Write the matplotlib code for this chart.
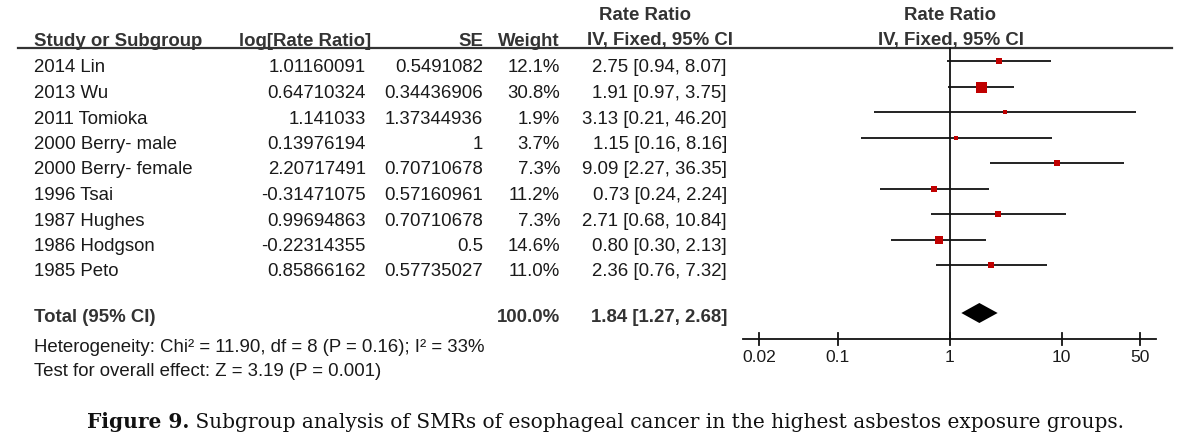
import matplotlib
matplotlib.use("Agg")
import matplotlib.pyplot as plt
import numpy as np

# dados
studies = ["2014 Lin", "2013 Wu", "2011 Tomioka", "2000 Berry- male", "2000 Berry- female",
           "1996 Tsai", "1987 Hughes", "1986 Hodgson", "1985 Peto"]
log_rr = ["1.01160091", "0.64710324", "1.141033", "0.13976194", "2.20717491",
          "-0.31471075", "0.99694863", "-0.22314355", "0.85866162"]
se = ["0.5491082", "0.34436906", "1.37344936", "1", "0.70710678",
      "0.57160961", "0.70710678", "0.5", "0.57735027"]
weight = [12.1, 30.8, 1.9, 3.7, 7.3, 11.2, 7.3, 14.6, 11.0]
rr = [2.75, 1.91, 3.13, 1.15, 9.09, 0.73, 2.71, 0.80, 2.36]
ci_lo = [0.94, 0.97, 0.21, 0.16, 2.27, 0.24, 0.68, 0.30, 0.76]
ci_hi = [8.07, 3.75, 46.20, 8.16, 36.35, 2.24, 10.84, 2.13, 7.32]

total_weight = 100.0
total_rr = 1.84
total_lo = 1.27
total_hi = 2.68

xticks = [0.02, 0.1, 1, 10, 50]
xtick_labels = ["0.02", "0.1", "1", "10", "50"]

heterogeneity = "Heterogeneity: Chi\u00b2 = 11.90, df = 8 (P = 0.16); I\u00b2 = 33%"
overall = "Test for overall effect: Z = 3.19 (P = 0.001)"
caption_bold = "Figure 9."
caption = " Subgroup analysis of SMRs of esophageal cancer in the highest asbestos exposure groups."

plt.rcParams['font.family'] = ['Liberation Sans', 'DejaVu Sans']
FS = 13.4
TXT = "#1a1a1a"
HDR = "#333333"
RED = "#c00000"

W, H = 1200, 447
fig = plt.figure(figsize=(W / 100, H / 100), dpi=100)

# eixo de texto em pixels
ax = fig.add_axes([0, 0, 1, 1])
ax.set_xlim(0, W)
ax.set_ylim(H, 0)
ax.axis("off")

# eixo do forest plot (log), mesma escala vertical
one_px, decade_px = 949.7, 112.0
axf = fig.add_axes([0, 0, 1, 1])
axf.set_xscale("log")
axf.set_xlim(10 ** (-one_px / decade_px), 10 ** ((W - one_px) / decade_px))
axf.set_ylim(H, 0)
axf.axis("off")
axf.patch.set_alpha(0)

# cabeçalhos
ax.text(645, 15, "Rate Ratio", ha="center", va="center", fontsize=FS, fontweight="bold", color=HDR)
ax.text(950, 15, "Rate Ratio", ha="center", va="center", fontsize=FS, fontweight="bold", color=HDR)
hy = 41
ax.text(34, hy, "Study or Subgroup", ha="left", va="center", fontsize=FS, fontweight="bold", color=HDR)
ax.text(371, hy, "log[Rate Ratio]", ha="right", va="center", fontsize=FS, fontweight="bold", color=HDR)
ax.text(483, hy, "SE", ha="right", va="center", fontsize=FS, fontweight="bold", color=HDR)
ax.text(560, hy, "Weight", ha="right", va="center", fontsize=FS, fontweight="bold", color=HDR)
ax.text(660, hy, "IV, Fixed, 95% CI", ha="center", va="center", fontsize=FS, fontweight="bold", color=HDR)
ax.text(951, hy, "IV, Fixed, 95% CI", ha="center", va="center", fontsize=FS, fontweight="bold", color=HDR)
ax.plot([18, 1172], [48, 48], color="#333333", lw=1.6)

# linhas dos estudos
row0, step = 68.0, 25.5
rows = row0 + step * np.arange(len(studies))
for i, y in enumerate(rows):
    ax.text(34, y, studies[i], ha="left", va="center", fontsize=FS, color=TXT)
    ax.text(366, y, log_rr[i], ha="right", va="center", fontsize=FS, color=TXT)
    ax.text(483, y, se[i], ha="right", va="center", fontsize=FS, color=TXT)
    ax.text(560, y, f"{weight[i]:.1f}%", ha="right", va="center", fontsize=FS, color=TXT)
    ax.text(727, y, f"{rr[i]:.2f} [{ci_lo[i]:.2f}, {ci_hi[i]:.2f}]", ha="right", va="center",
            fontsize=FS, color=TXT)

    yp = y - 7
    axf.plot([ci_lo[i], ci_hi[i]], [yp, yp], color="#111111", lw=1.3, solid_capstyle="butt")
    side_px = max(3.6, 11 * np.sqrt(weight[i] / max(weight)))
    axf.plot(rr[i], yp, marker="s", ms=side_px * 0.72, color=RED, mew=0)

# total
ty = 318
ax.text(34, ty, "Total (95% CI)", ha="left", va="center", fontsize=FS, fontweight="bold", color=HDR)
ax.text(560, ty, f"{total_weight:.1f}%", ha="right", va="center", fontsize=FS, fontweight="bold", color=HDR)
ax.text(727, ty, f"{total_rr:.2f} [{total_lo:.2f}, {total_hi:.2f}]", ha="right", va="center",
        fontsize=FS, fontweight="bold", color=HDR)
dy = ty - 5
axf.fill([total_lo, total_rr, total_hi, total_rr], [dy, dy - 10, dy, dy + 10], color="black", lw=0)

ax.text(34, 348, heterogeneity, ha="left", va="center", fontsize=FS, color=TXT)
ax.text(34, 372, overall, ha="left", va="center", fontsize=FS, color=TXT)

# eixo x e linha de nulidade
axis_y = 339
lo_lim, hi_lim = 10 ** (-1.845), 10 ** (1.842)
axf.plot([lo_lim, hi_lim], [axis_y, axis_y], color="#111111", lw=1.3)
axf.plot([1, 1], [48, axis_y], color="#111111", lw=1.3)
for t, lab in zip(xticks, xtick_labels):
    axf.plot([t, t], [axis_y - 6, axis_y + 6], color="#111111", lw=1.3)
    axf.text(t, 358, lab, ha="center", va="center", fontsize=FS - 0.8, color=TXT)

# legenda da figura: ajusta o tamanho para ocupar a mesma largura do original
serif = ["DejaVu Serif", "Liberation Serif"]
cap_x0, cap_x1 = 87, 1125
cap_fs = 14.0
t1 = ax.text(cap_x0, 422, caption_bold, ha="left", va="center", fontsize=cap_fs,
             fontweight="bold", family=serif, color="#111111")
t2 = ax.text(cap_x0, 422, caption, ha="left", va="center", fontsize=cap_fs,
             family=serif, color="#111111")
fig.canvas.draw()
total_w = t1.get_window_extent().width + t2.get_window_extent().width
cap_fs = cap_fs * (cap_x1 - cap_x0) / total_w
t1.set_fontsize(cap_fs)
t2.set_fontsize(cap_fs)
fig.canvas.draw()
t2.set_x(cap_x0 + t1.get_window_extent().width)

fig.savefig("out.png", dpi=100)
plt.close(fig)
